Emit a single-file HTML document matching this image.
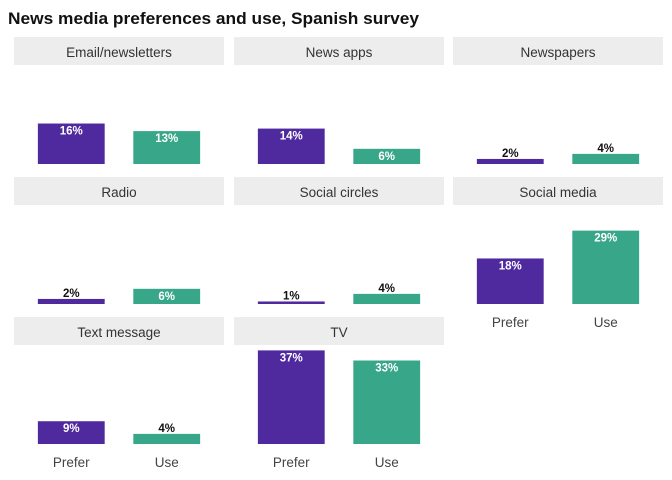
<!DOCTYPE html>
<html><head><meta charset="utf-8"><style>
body{margin:0;background:#fff;}
svg{display:block;font-family:"Liberation Sans",sans-serif;}
</style></head><body>
<svg id="chart" width="672" height="480" viewBox="0 0 672 480"></svg>
<script>
const panels = ["Email/newsletters","News apps","Newspapers","Radio","Social circles","Social media","Text message","TV"];
const categories = ["Prefer","Use"];
const preferValues = [16,14,2,2,1,18,9,37];
const useValues = [13,6,4,6,4,29,4,33];
const colors = ["#4f2a9e","#38a689"];
const NS="http://www.w3.org/2000/svg";
const svg=document.getElementById('chart');
function mk(tag,attrs,parent){const e=document.createElementNS(NS,tag);for(const k in attrs)e.setAttribute(k,attrs[k]);(parent||svg).appendChild(e);return e;}
const title=mk('text',{x:8,y:24,'font-size':17,'font-weight':'bold',fill:'#111',textLength:411,lengthAdjust:'spacingAndGlyphs'});


title.textContent="News media preferences and use, Spanish survey";
const colX=[14,234,453], pw=210, rowBase=[164,304,444];
const pxPerPct=2.53;
function yScale(v,base){return base - v*pxPerPct;}
function xCenter(i,px){const unit=pw/2.2;return px+(0.6+i)*unit;}
panels.forEach((name,p)=>{
  const c=p%3,r=Math.floor(p/3),px=colX[c],base=rowBase[r];
  const g=mk('g',{});
  
  
  const strip=mk('rect',{x:px,y:base-127,width:pw,height:28,fill:'#ededed'},g);
  
  
  const st=mk('text',{x:px+pw/2,y:base-107,'text-anchor':'middle','font-size':13.5,fill:'#333'},g);
  
  
  st.textContent=name;
  const vals=[preferValues[p],useValues[p]];
  vals.forEach((v,i)=>{
    const cx=xCenter(i,px), bw=pw/2.2*0.7, top=yScale(v,base);
    const b=mk('rect',{x:cx-bw/2,y:top,width:bw,height:base-top,fill:colors[i]},g);
    
    
    const inside=v>5;
    const t=mk('text',{x:cx,y:inside?top+11:top-2,'text-anchor':'middle','font-size':11.5,'font-weight':'bold',fill:inside?'#fff':'#111'},g);
    
    
    t.textContent=v+'%';
  });
  if(p>=5){
    categories.forEach((cat,i)=>{
      const t=mk('text',{x:xCenter(i,px),y:base+23,'text-anchor':'middle','font-size':13.5,fill:'#444'},g);
      
      
      t.textContent=cat;
    });
  }
});
</script>
</body></html>
